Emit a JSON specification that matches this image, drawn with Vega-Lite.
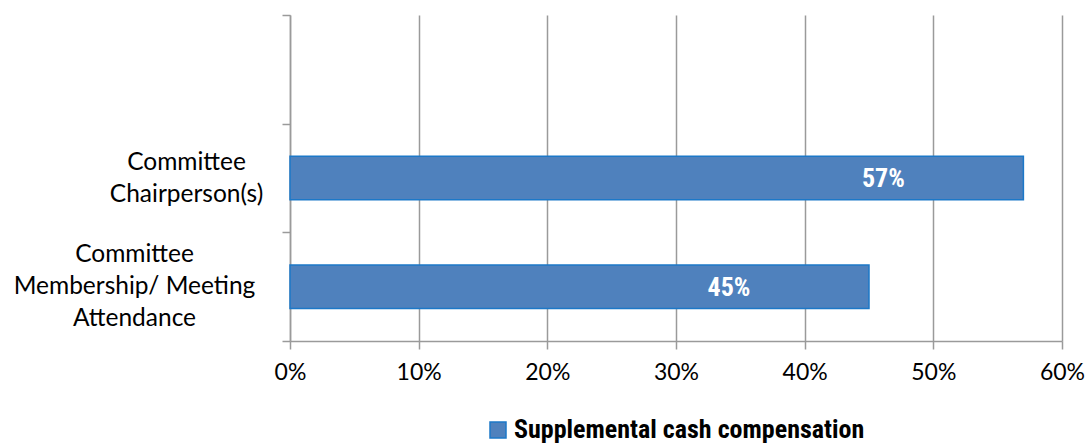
{
  "$schema": "https://vega.github.io/schema/vega-lite/v6.json",
  "autosize": {"type": "none"},
  "padding": {"left": 290, "top": 15, "right": 25, "bottom": 102},
  "width": 772,
  "height": 326,
  "background": "white",
  "config": {"view": {"stroke": null}},
  "data": {
    "values": [
      {"category": "Committee Chairperson(s)", "series": "Supplemental cash compensation", "value": 0.57},
      {"category": "Committee Membership/ Meeting Attendance", "series": "Supplemental cash compensation", "value": 0.45}
    ]
  },
  "encoding": {
    "y": {
      "field": "category",
      "type": "nominal",
      "scale": {
        "domain": ["(none)", "Committee Chairperson(s)", "Committee Membership/ Meeting Attendance"],
        "paddingInner": 0,
        "paddingOuter": 0
      },
      "axis": {
        "title": null,
        "tickBand": "extent",
        "domainColor": "#9a9a9a",
        "domainWidth": 1.5,
        "tickColor": "#9a9a9a",
        "tickWidth": 1.5,
        "tickSize": 8,
        "grid": false,
        "labelFont": "Lato",
        "labelFontSize": 24.5,
        "labelColor": "#000000",
        "labelAlign": "center",
        "labelBaseline": "middle",
        "labelLineHeight": 32,
        "labelLimit": 400,
        "labelPadding": {"condition": {"test": "datum.value == 'Committee Chairperson(s)'", "value": 96}, "value": 148},
        "labelOffset": {"condition": {"test": "datum.value == 'Committee Chairperson(s)'", "value": -16}, "value": -32},
        "labelExpr": "datum.value == 'Committee Chairperson(s)' ? ['Committee', 'Chairperson(s)'] : datum.value == 'Committee Membership/ Meeting Attendance' ? ['Committee', 'Membership/ Meeting', 'Attendance'] : ''"
      }
    }
  },
  "layer": [
    {
      "mark": {"type": "bar", "fill": "#4f81bd", "stroke": "#1c78c8", "strokeWidth": 1.5, "height": {"band": 0.4}},
      "encoding": {
        "x": {
          "field": "value",
          "type": "quantitative",
          "scale": {"domain": [0, 0.6], "nice": false},
          "axis": {
            "title": null,
            "values": [0, 0.1, 0.2, 0.3, 0.4, 0.5, 0.6],
            "format": ".0%",
            "grid": true,
            "gridColor": "#9a9a9a",
            "gridWidth": 1.5,
            "domainColor": "#9a9a9a",
            "domainWidth": 1.5,
            "tickColor": "#9a9a9a",
            "tickWidth": 1.5,
            "tickSize": 8,
            "labelFont": "Lato",
            "labelFontSize": 23,
            "labelColor": "#000000",
            "labelPadding": 12,
            "labelFlush": false
          }
        },
        "color": {
          "field": "series",
          "type": "nominal",
          "scale": {"range": ["#4f81bd"]},
          "legend": {
            "title": null,
            "orient": "none",
            "legendX": 195,
            "legendY": 402,
            "symbolType": "square",
            "symbolSize": 256,
            "symbolStrokeColor": "#1c78c8",
            "symbolStrokeWidth": 1.5,
            "symbolOpacity": 1,
            "labelFont": "Roboto Condensed, Liberation Sans Narrow, Roboto, sans-serif",
            "labelFontWeight": "bold",
            "labelFontSize": 26,
            "labelColor": "#000000",
            "labelOffset": 3,
            "labelLimit": 600
          }
        }
      }
    },
    {
      "mark": {
        "type": "text",
        "color": "white",
        "font": "Roboto Condensed, Liberation Sans Narrow, Roboto, sans-serif",
        "fontWeight": "bold",
        "fontSize": 26,
        "align": "center",
        "baseline": "middle",
        "dx": -140,
        "dy": 1
      },
      "encoding": {
        "x": {"field": "value", "type": "quantitative"},
        "text": {"field": "value", "type": "quantitative", "format": ".0%"}
      }
    }
  ]
}
